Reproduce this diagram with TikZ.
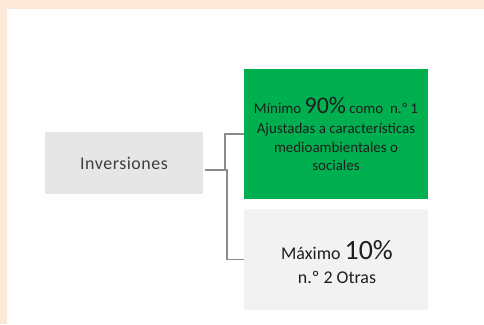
\documentclass[tikz,border=0pt]{standalone}
\usepackage{fontspec}
\setmainfont{Carlito}
\definecolor{peach}{HTML}{FBE8D7}
\definecolor{grnbox}{HTML}{00B050}
\definecolor{lgray}{HTML}{E7E6E6}
\definecolor{vlgray}{HTML}{F2F2F2}
\definecolor{conn}{HTML}{8C8C8C}
\definecolor{txtgray}{HTML}{3F3F3F}
\definecolor{txtdark}{HTML}{1E1E1E}
\begin{document}
\begin{tikzpicture}[x=1bp,y=-1bp,
  box/.style={inner sep=0pt, outer sep=0pt, align=center},
  connline/.style={draw=conn, line width=1.1bp}]
\useasboundingbox (0,0) rectangle (484,324);
\fill[peach] (0,0) rectangle (484,324);
\fill[white] (7,9) rectangle (484,324);

\node[box, fill=lgray, minimum width=158bp, minimum height=62bp, text=txtgray,
  font=\fontsize{18}{22}\selectfont\addfontfeature{LetterSpace=3}] (inv) at (124,163)
  {Inversiones};

\node[box, fill=grnbox, minimum width=184bp, minimum height=130bp, text=txtdark,
  font=\fontsize{15}{18.5}\selectfont] (g) at (336,134)
  {M\'inimo {\fontsize{24}{24}\selectfont 90\%} como\ \ n.\textordmasculine\,1\\[1.5pt]
   Ajustadas a caracter\'isticas\\ medioambientales o\\ sociales};

\node[box, fill=vlgray, rounded corners=3bp, minimum width=184bp, minimum height=101bp] (o) at (336,259.5) {};
\node[box, text=txtdark, font=\fontsize{18}{24}\selectfont] (ot) at ([xshift=1bp,yshift=-3bp]o.center)
  {M\'aximo {\fontsize{28}{28}\selectfont 10\%}\\ n.\textordmasculine\ 2 Otras};

\coordinate (s) at ([shift={(2,7)}]inv.east);
\coordinate (j2) at (227,170);
\draw[connline] (s) -| ([xshift=-19bp]g.west) -- (g.west);
\draw[connline] (s) -- (j2) |- (o.west);
\end{tikzpicture}
\end{document}
